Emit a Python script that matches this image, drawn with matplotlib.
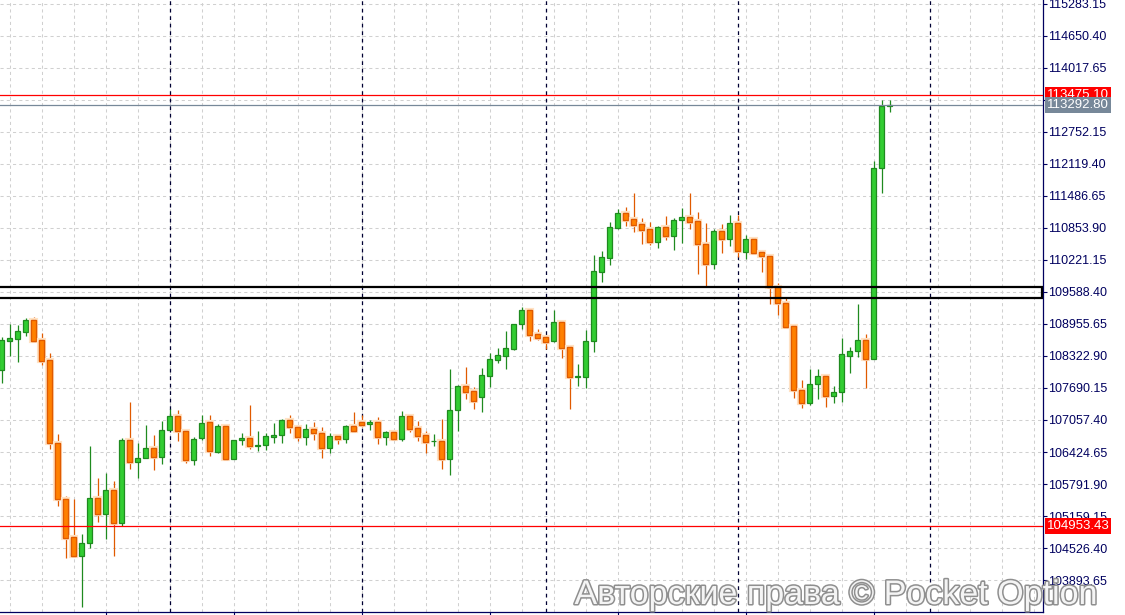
import matplotlib
matplotlib.use("Agg")
import matplotlib.pyplot as plt
import matplotlib.patheffects as pe
from matplotlib.patches import Rectangle

# candle data
opens = [108046, 108625, 108665, 108803, 109029, 108633, 108238, 106597, 105489, 104738,
         104374, 104619, 105509, 105193, 105667, 105015, 106656, 106233, 106300, 106498,
         106320, 106866, 107130, 106834, 106272, 106695, 107012, 106431, 106933, 106292,
         106656, 106695, 106543, 106557, 106727, 106755, 107051, 106913, 106727, 106873,
         106794, 106498, 106735, 106688, 106939, 107012, 106972, 107012, 106727, 106820,
         106688, 107136, 106893, 106755, 106636, 106636, 106292, 107249, 107730, 107625,
         107506, 107933, 108250, 108329, 108467, 108950, 109227, 108752, 108693, 108619,
         108989, 108495, 107914, 107914, 108614, 109990, 110266, 110860, 111145, 111026,
         110927, 110828, 110583, 110868, 110701, 111006, 111065, 110986, 110531, 110148,
         110789, 110631, 110947, 110385, 110631, 110373, 110294, 109693, 109365, 108910,
         107651, 107400, 107763, 107922, 107538, 107605, 108329, 108428, 108633, 108270,
         112034, 113275]
highs = [108699, 108956, 108930, 109080, 109100, 108784, 108376, 106780, 105555, 105495,
         104803, 106543, 105905, 106003, 105845, 106707, 107413, 106597, 106953, 106755,
         107038, 107269, 107249, 106834, 106715, 107150, 107150, 106972, 106933, 106656,
         106794, 107348, 106840, 106800, 106998, 107077, 107162, 106958, 106984, 107018,
         106919, 106800, 106780, 106958, 107216, 107162, 107057, 107117, 106840, 106840,
         107235, 107162, 107043, 106834, 106780, 107077, 108066, 107745, 108105, 107710,
         108086, 108382, 108481, 108817, 108956, 109292, 109240, 108857, 108705, 109227,
         108989, 108495, 108165, 108831, 110320, 110399, 110973, 111230, 111263, 111546,
         111052, 110973, 110893, 111091, 111045, 111243, 111546, 111164, 110953, 110828,
         110933, 111111, 111111, 110710, 110670, 110405, 110340, 109760, 109464, 108910,
         107848, 108066, 108066, 107947, 107724, 108673, 108495, 109351, 108758, 112179,
         113385, 113385]
lows = [107789, 108323, 108204, 108724, 108606, 108145, 106490, 105363, 104335, 104374,
        103366, 104520, 105046, 104698, 104374, 104967, 106094, 105916, 106300, 106075,
        106193, 106866, 106636, 106213, 106174, 106656, 106340, 106411, 106272, 106292,
        106557, 106478, 106450, 106464, 106609, 106609, 106806, 106648, 106569, 106668,
        106312, 106411, 106577, 106609, 106826, 106925, 106854, 106589, 106569, 106656,
        106648, 106826, 106648, 106399, 106549, 106094, 105964, 106834, 107473, 107275,
        107210, 107716, 108179, 108066, 108441, 108863, 108625, 108645, 108455, 108606,
        108289, 107281, 107735, 107696, 108408, 109780, 110128, 110828, 110899, 110781,
        110543, 110512, 110464, 110622, 110425, 110563, 110834, 109950, 109687, 110049,
        110365, 110504, 110286, 110247, 110346, 109990, 109351, 109134, 108902, 107486,
        107301, 107348, 107479, 107320, 107400, 107407, 107987, 108309, 107696, 108270,
        111552, 113154]
closes = [108639, 108673, 108811, 109029, 108625, 108230, 106597, 105489, 104730, 104374,
          104619, 105509, 105193, 105667, 105015, 106656, 106233, 106300, 106498, 106320,
          106854, 107130, 106834, 106272, 106676, 106992, 106438, 106933, 106292, 106656,
          106695, 106537, 106557, 106735, 106755, 107057, 106913, 106727, 106873, 106794,
          106498, 106741, 106688, 106939, 106846, 106964, 107012, 106727, 106820, 106688,
          107130, 106885, 106747, 106628, 106640, 106292, 107249, 107730, 107617, 107439,
          107941, 108258, 108337, 108475, 108950, 109227, 108744, 108685, 108594, 108989,
          108487, 107914, 107922, 108614, 110004, 110275, 110868, 111145, 111018, 110919,
          110820, 110583, 110868, 110701, 111006, 111065, 110978, 110531, 110148, 110789,
          110642, 110947, 110405, 110631, 110365, 110294, 109693, 109365, 108902, 107651,
          107400, 107763, 107922, 107538, 107605, 108357, 108416, 108633, 108270, 112034,
          113266, 113292.80]

priceTicks = [115283.15, 114650.40, 114017.65, 113384.90, 112752.15, 112119.40, 111486.65,
              110853.90, 110221.15, 109588.40, 108955.65, 108322.90, 107690.15, 107057.40,
              106424.65, 105791.90, 105159.15, 104526.40, 103893.65]
hiddenTick = 113384.90  # covered by the price tags
redLevels = [113475.10, 104953.43]
currentPrice = 113292.80
zoneLow = 109476
zoneHigh = 109687
daySeparators = [21, 45, 68, 92, 116]
timeTicks = [13, 29, 45, 61, 77, 93, 109]

navy = "#00005f"
greenFill = "#32cd32"
greenEdge = "#1f8a1f"
orangeFill = "#ff8000"
orangeEdge = "#e05a00"

fig = plt.figure(figsize=(11.25, 6.15), dpi=100)
ax = fig.add_axes([0, 3 / 615, 1043 / 1125, 612 / 615])
ax.set_xlim(-0.21, 130.16)
ax.set_ylim(103261, 115362)

# light grid
for k in range(1, 131, 4):
    ax.axvline(k, color="#d0d0d0", linewidth=0.75, linestyle=(0, (3, 3)), zorder=0)
for p in priceTicks:
    ax.axhline(p, color="#d0d0d0", linewidth=0.75, linestyle=(0, (3, 3)), zorder=0)

# day separators
for d in daySeparators:
    ax.axvline(d, color="#000033", linewidth=0.9, linestyle=(0, (3, 3)), zorder=1)

# candles
for i in range(len(opens)):
    up = closes[i] >= opens[i]
    wickColor = greenEdge if up else orangeEdge
    ax.vlines(i, lows[i], highs[i], color=wickColor, linewidth=0.9, zorder=2)
    bottom = min(opens[i], closes[i])
    height = abs(closes[i] - opens[i])
    if up:
        ax.bar(i, height, bottom=bottom, width=0.58, color=greenFill,
               edgecolor=greenEdge, linewidth=0.9, zorder=3)
    else:
        bars = ax.bar(i, height, bottom=bottom, width=0.58, color=orangeFill,
                      edgecolor=orangeEdge, linewidth=0.9, zorder=3)
        for b in bars:
            b.set_path_effects([pe.withStroke(linewidth=3, foreground="#ffe2c4"), pe.Normal()])

# levels
for lv in redLevels:
    ax.axhline(lv, color="#ff0000", linewidth=0.9, zorder=4)
ax.axhline(currentPrice, color="#778899", linewidth=0.9, zorder=4)
ax.add_patch(Rectangle((-2, zoneLow), 132.0, zoneHigh - zoneLow, fill=False,
                       edgecolor="black", linewidth=1.6, zorder=4))

# axes styling
for s in ["left", "top"]:
    ax.spines[s].set_visible(False)
for s in ["right", "bottom"]:
    ax.spines[s].set_color(navy)
    ax.spines[s].set_linewidth(0.9)
ax.yaxis.tick_right()
ax.set_yticks(priceTicks)
ax.set_yticklabels(["" if p == hiddenTick else "%.2f" % p for p in priceTicks])
ax.tick_params(axis="y", colors=navy, length=3, width=0.8, pad=1, labelsize=9)
for lab in ax.get_yticklabels():
    lab.set_fontfamily("Liberation Sans")
ax.set_xticks(timeTicks)
ax.set_xticklabels([])
ax.tick_params(axis="x", colors=navy, length=3, width=0.8)

# price tags
tagStyle = dict(ha="left", va="center", fontsize=9.5, family="Liberation Sans", color="white",
                clip_on=False, zorder=10)
for lv in redLevels:
    ax.text(1.0035, lv, "%.2f" % lv, transform=ax.get_yaxis_transform(),
            bbox=dict(boxstyle="square,pad=0.15", facecolor="#ff0000", edgecolor="none"),
            **tagStyle)
ax.text(1.0035, currentPrice, "%.2f" % currentPrice, transform=ax.get_yaxis_transform(),
        bbox=dict(boxstyle="square,pad=0.15", facecolor="#778899", edgecolor="none"),
        **tagStyle)

# watermark
fig.text(1098 / 1125, 11 / 615, "Авторские права © Pocket Option", ha="right", va="baseline",
         fontsize=24.5, family="Liberation Sans", color="#f4f4f4",
         path_effects=[pe.withStroke(linewidth=2.2, foreground="#8f8f8f")], zorder=20)

fig.savefig("out.png", dpi=100, facecolor="white")
